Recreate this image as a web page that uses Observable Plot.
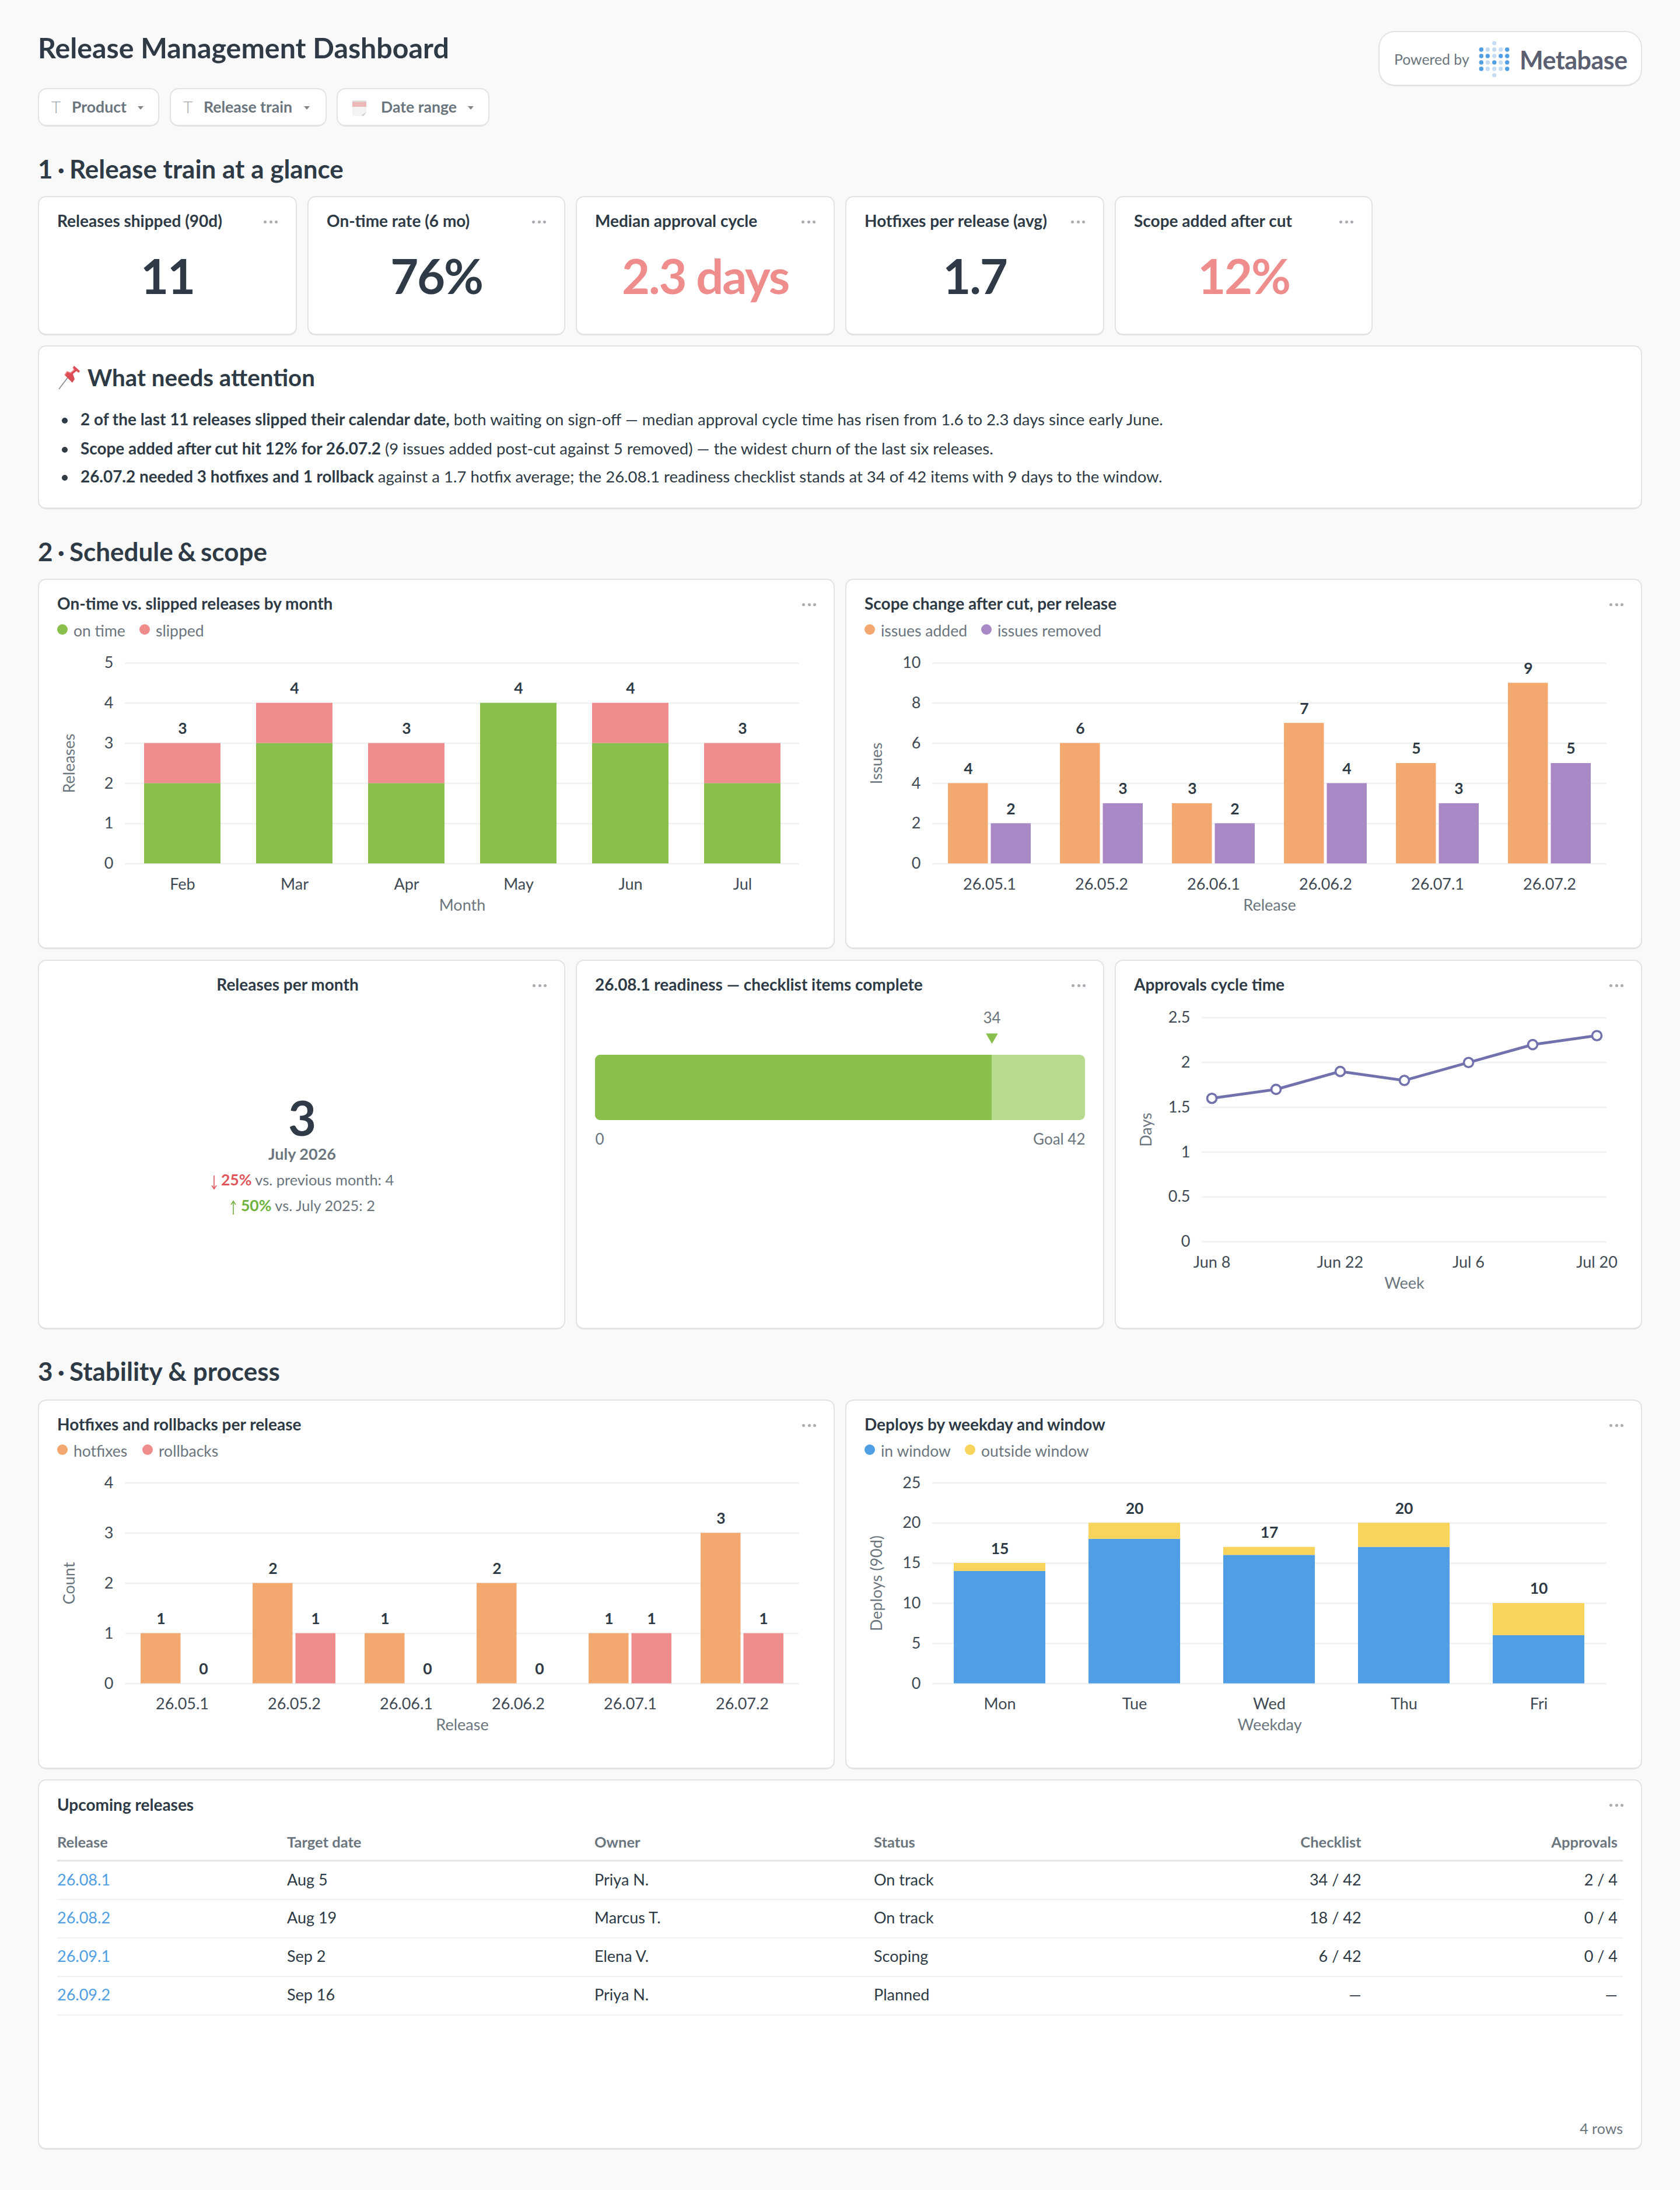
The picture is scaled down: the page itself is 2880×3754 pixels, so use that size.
<!DOCTYPE html>
<html>
<head>
<meta charset="utf-8">
<script src="https://cdn.jsdelivr.net/npm/d3@7"></script>
<script src="https://cdn.jsdelivr.net/npm/@observablehq/plot@0.6"></script>
<style>
html,body{margin:0;padding:0;background:#F9F9FA;}
#page{position:relative;width:2880px;height:3754px;overflow:hidden;font-family:Lato,sans-serif;background:#F9F9FA;}
.card{position:absolute;box-sizing:border-box;background:#fff;border:2.4px solid #E1E4E6;border-bottom-width:3px;border-radius:14px;}
.t{position:absolute;white-space:nowrap;line-height:1;}
svg.plot{position:absolute;}
.dot{position:absolute;width:5px;height:5px;border-radius:50%;background:#A7ACB2;}
.leg{position:absolute;width:18px;height:18px;border-radius:50%;}
.caret{position:absolute;width:0;height:0;border-left:5.5px solid transparent;border-right:5.5px solid transparent;border-top:6.5px solid #7F868C;}
.hr{position:absolute;left:98px;width:2684px;background:#EFF1F2;}
svg.icon{position:absolute;}
</style>
</head>
<body>
<div id="page"></div>
<script>
// ---------- data ----------
const months = ["Feb","Mar","Apr","May","Jun","Jul"];
const onTime = [2,3,2,4,3,2];
const slipped = [1,1,1,0,1,1];
const releases = ["26.05.1","26.05.2","26.06.1","26.06.2","26.07.1","26.07.2"];
const issuesAdded = [4,6,3,7,5,9];
const issuesRemoved = [2,3,2,4,3,5];
const weeks = ["Jun 8","Jun 15","Jun 22","Jun 29","Jul 6","Jul 13","Jul 20"];
const weekTicks = ["Jun 8","Jun 22","Jul 6","Jul 20"];
const cycleDays = [1.6,1.7,1.9,1.8,2.0,2.2,2.3];
const checklistDone = 34;
const checklistGoal = 42;
const hotfixes = [1,2,1,2,1,3];
const rollbacks = [0,1,0,0,1,1];
const weekdays = ["Mon","Tue","Wed","Thu","Fri"];
const inWindow = [14,18,16,17,6];
const outsideWindow = [1,2,1,3,4];
const kpiTitles = ["Releases shipped (90d)","On-time rate (6 mo)","Median approval cycle","Hotfixes per release (avg)","Scope added after cut"];
const kpiValues = ["11","76%","2.3 days","1.7","12%"];
const kpiAlert = [false,false,true,false,true];
const filters = ["Product","Release train","Date range"];
const tableHead = ["Release","Target date","Owner","Status","Checklist","Approvals"];
const tableReleases = ["26.08.1","26.08.2","26.09.1","26.09.2"];
const tableDates = ["Aug 5","Aug 19","Sep 2","Sep 16"];
const tableOwners = ["Priya N.","Marcus T.","Elena V.","Priya N."];
const tableStatus = ["On track","On track","Scoping","Planned"];
const tableChecklist = ["34 / 42","18 / 42","6 / 42","—"];
const tableApprovals = ["2 / 4","0 / 4","0 / 4","—"];

// ---------- palette ----------
const DARK="#2E3A45", TICK="#3F4A54", GREY="#6B757E", GRID="#EFF1F2";
const GREEN="#88BF4D", RED="#EF8C8C", ORANGE="#F2A86F", PURPLE="#A989C5", BLUE="#509EE3", YELLOW="#F9D45C", LINE="#7172AD";

const page=document.getElementById("page");
function el(cls,css,parent=page){const d=document.createElement("div");d.className=cls;Object.assign(d.style,css);parent.appendChild(d);return d;}
function T(str,x,y,o={}){
  const {size=27,weight=400,color=DARK,align="left",ls=null,shift=-2.5}=o;
  const d=el("t",{left:x+"px",top:(y+shift)+"px",fontSize:size+"px",fontWeight:weight,color,
    transform:`translate(${align==="center"?"-50%":align==="right"?"-100%":"0"},-50%)`});
  if(ls!==null)d.style.letterSpacing=ls+"px";
  if(Array.isArray(str)){str.forEach(p=>{const s=document.createElement("span");s.textContent=p.t;
      if(p.w)s.style.fontWeight=p.w; if(p.c)s.style.color=p.c; if(p.ws)s.style.wordSpacing=p.ws+"px"; if(p.s)s.style.fontSize=p.s+"px"; d.appendChild(s);});}
  else d.textContent=str;
  return d;
}
function card(x1,y1,x2,y2){return el("card",{left:x1+"px",top:y1+"px",width:(x2-x1)+"px",height:(y2-y1)+"px"});}
function dots(xr,y){[0,9.5,19].forEach(dx=>el("dot",{left:(xr-24+dx)+"px",top:(y-2.5)+"px"}));}
function legend(items){items.forEach(([label,color,cx,tx,y])=>{
  el("leg",{left:(cx-9)+"px",top:(y-11)+"px",background:color});
  T(label,tx,y,{size:FS.leg,color:GREY,shift:0});
});}
function svgIcon(x,y,w,h,inner){const n=document.createElementNS("http://www.w3.org/2000/svg","svg");
  n.setAttribute("class","icon");n.setAttribute("width",w);n.setAttribute("height",h);n.setAttribute("viewBox",`0 0 ${w} ${h}`);
  n.style.left=x+"px";n.style.top=y+"px";n.innerHTML=inner;page.appendChild(n);}
function heading(num,rest,y,ws=0){T([{t:num+" · ",ws:-2.5},{t:rest,ws}],65,y,{size:44,weight:700});}

const FS={tick:27,val:26.5,leg:26.5,title:28,kpi:83};

// ---------- shared Plot frame ----------
function frame(box,grid,opts){
  const [bx1,by1,bx2,by2]=box,[gx1,gy1,gx2,gy2]=grid;
  const svg=Plot.plot({
    width:bx2-bx1,height:by2-by1,
    marginLeft:gx1-bx1,marginRight:bx2-gx2,marginTop:gy1-by1,marginBottom:by2-gy2,
    style:{background:"transparent",fontFamily:"Lato",overflow:"visible"},
    ...opts});
  svg.setAttribute("class","plot");
  svg.style.left=bx1+"px";svg.style.top=by1+"px";
  d3.select(svg).selectAll('[aria-label="x-axis label"],[aria-label="y-axis label"]').attr("fill",GREY);
  page.appendChild(svg);
}
const axX=(label,extra={})=>Plot.axisX({tickSize:0,tickPadding:25,fontSize:FS.tick,fill:TICK,label,labelAnchor:"center",labelArrow:"none",labelOffset:80,...extra});
const axY=(label,ticks,extra={})=>Plot.axisY({ticks,tickSize:0,tickPadding:20,fontSize:FS.tick,fill:TICK,label,labelAnchor:"center",labelArrow:"none",labelOffset:106,tickFormat:d=>String(d),...extra});
const grid=(ticks)=>Plot.gridY(ticks,{stroke:GRID,strokeWidth:2.6,strokeOpacity:1});
const valueText=(data,o)=>Plot.text(data,{fontSize:FS.val,fontWeight:700,fill:DARK,dy:-24.5,...o});

// ---------- header ----------
T("Release Management Dashboard",65,83,{size:48.3,weight:700});
const fbox=[[65,273,96,123,241],[291,560,322,349,526],[577,839,null,653,807]];
filters.forEach((f,i)=>{
  const [a,b,ti,tx,cx]=fbox[i];
  const c=card(a,151,b,217);c.style.borderRadius="15px";
  if(ti)T("T",ti,183,{size:28,color:"#9CA3A9",align:"center",weight:300,shift:0});
  T(f,tx,183,{size:26.6,weight:700,color:GREY,shift:0});
  el("caret",{left:(cx-5.5)+"px",top:"182px"});
});
svgIcon(603,172,26,27,`<path d="M1 3h24v19l-5 5H1z" fill="#F3F4F4"/><rect x="1" y="3" width="24" height="8" fill="#EBB7B7"/><rect x="1" y="0.5" width="24" height="2.5" fill="#D9D9D9"/><path d="M25 20l-5 7-4-1z" fill="#CFCFCF"/>`);

const pill=card(2363,53,2815,148);pill.style.borderRadius="28px";
T("Powered by",2390,102,{size:24.8,color:GREY,shift:0});
(function(){
  const cols=[5.3,16.3,27.7,38.7,49.7],rows=[16,27,38,49];
  const on=[[1,0,0,0,1],[1,1,0,1,1],[1,0,1,0,1],[1,0,0,0,1]];
  let s=`<circle cx="27.7" cy="5" r="3.6" fill="#C5DCF3"/><circle cx="27.7" cy="60" r="3.6" fill="#C5DCF3"/>`;
  rows.forEach((y,r)=>cols.forEach((x,c)=>{s+=`<circle cx="${x}" cy="${y}" r="3.7" fill="${on[r][c]?BLUE:"#C5DCF3"}"/>`;}));
  svgIcon(2534,69,56,66,s);
})();
T("Metabase",2605,102,{size:43,weight:700,color:"#5A6072",ls:-.5,shift:0});

// ---------- section 1 ----------
heading("1","Release train at a glance",291);
const kpiX=[65,527,987,1449,1911],kpiW=[444,442,444,444,442];
kpiTitles.forEach((t,i)=>{
  const x=kpiX[i],w=kpiW[i];
  card(x,336,x+w,575);
  T(t,x+33,380,{size:FS.title,weight:700});
  dots(x+w-33,380);
  T(kpiValues[i],x+w/2,472,{size:FS.kpi,weight:700,align:"center",color:kpiAlert[i]?RED:DARK,ls:-2.2,shift:0});
});

card(65,592,2815,873);
svgIcon(98,626,42,42,`<path d="M3 41 L19 20" stroke="#8A9097" stroke-width="1.8"/><path d="M13 17 L26 30 L30 24 L27 15 L33 10 L37 13 L39 10 L29 1 L27 4 L29 8 L23 13 L17 11 Z" fill="#DD4D55"/><path d="M27 4 L29 8 L23 13 L17 11 L13 17" stroke="#F08C90" stroke-width="1.6" fill="none"/>`);
T("What needs attention",150,649,{size:40.3,weight:700,shift:-2});
const bullets=[
 [["2 of the last 11 releases slipped their calendar date,",700]," both waiting on sign-off — median approval cycle time has risen from 1.6 to 2.3 days since early June."],
 [["Scope added after cut hit 12% for 26.07.2",700]," (9 issues added post-cut against 5 removed) — the widest churn of the last six releases."],
 [["26.07.2 needed 3 hotfixes and 1 rollback",700]," against a 1.7 hotfix average; the 26.08.1 readiness checklist stands at 34 of 42 items with 9 days to the window."]
];
[721,771,819].forEach((y,i)=>{
  el("dot",{left:"106px",top:(y-5)+"px",width:"10px",height:"10px",background:DARK});
  T([{t:bullets[i][0][0],w:700,s:27.9},{t:bullets[i][1]}],138,y,{size:27.5,color:DARK});
});

// ---------- section 2 ----------
heading("2","Schedule & scope",947,-3);

// chart 1 : stacked
card(65,992,1431,1627);
T("On-time vs. slipped releases by month",98,1036,{size:FS.title,weight:700});dots(1399,1036);
legend([["on time",GREEN,106.5,126,1081],["slipped",RED,248,267,1081]]);
const statusKeys=["on time","slipped"];
const rows1=months.flatMap((m,i)=>[{m,k:"on time",v:onTime[i]},{m,k:"slipped",v:slipped[i]}]);
frame([65,992,1431,1627],[214,1136,1370,1480],{
  x:{domain:months,paddingInner:.32,paddingOuter:.16},
  y:{domain:[0,5]},
  color:{domain:statusKeys,range:[GREEN,RED]},
  marks:[grid([0,1,2,3,4,5]),axY("Releases",[0,1,2,3,4,5]),axX("Month"),
    Plot.barY(rows1,{x:"m",y:"v",fill:"k",order:statusKeys}),
    valueText(months,{x:d=>d,y:(d,i)=>onTime[i]+slipped[i],text:(d,i)=>String(onTime[i]+slipped[i])})
  ]});

// chart 2 : grouped
card(1449,992,2815,1627);
T("Scope change after cut, per release",1482,1036,{size:FS.title,weight:700});dots(2783,1036);
legend([["issues added",ORANGE,1490.5,1510,1081],["issues removed",PURPLE,1690.7,1710,1081]]);
function grouped(a,b,ca,cb,yDomain,yTicks,yLabel,box,g){
  const band={domain:releases,paddingInner:.258,paddingOuter:.129};
  const inset=73.5, off=36.5;
  frame(box,g,{
    x:band,y:{domain:yDomain},
    marks:[grid(yTicks),axY(yLabel,yTicks),axX("Release"),
      Plot.barY(releases,{x:d=>d,y:(d,i)=>a[i],fill:ca,insetRight:inset}),
      Plot.barY(releases,{x:d=>d,y:(d,i)=>b[i],fill:cb,insetLeft:inset}),
      valueText(releases,{x:d=>d,y:(d,i)=>a[i],text:(d,i)=>String(a[i]),dx:-off}),
      valueText(releases,{x:d=>d,y:(d,i)=>b[i],text:(d,i)=>String(b[i]),dx:off})
    ]});
}
grouped(issuesAdded,issuesRemoved,ORANGE,PURPLE,[0,10],[0,2,4,6,8,10],"Issues",[1449,992,2815,1627],[1598,1136,2754,1480]);

// releases per month
card(65,1645,969,2279);
T("Releases per month",493,1689,{size:FS.title,weight:700,align:"center"});dots(937,1689);
T("3",518,1915,{size:FS.kpi,weight:700,align:"center",shift:0});
T("July 2026",518,1979,{size:27,weight:700,color:GREY,align:"center"});
const arrow=(x,y,h,col,up)=>svgIcon(x,y,12,h,up
  ?`<path d="M6 2V${h}" stroke="${col}" stroke-width="1.6"/><path d="M2 7L6 1L10 7" fill="none" stroke="${col}" stroke-width="1.6"/>`
  :`<path d="M6 0V${h-2}" stroke="${col}" stroke-width="1.6"/><path d="M2 ${h-7}L6 ${h-1}L10 ${h-7}" fill="none" stroke="${col}" stroke-width="1.6"/>`);
arrow(361,2015,24,"#E0555A",false);
T([{t:"25%",w:700,c:"#E0555A",s:26.5},{t:" vs. previous month: 4"}],379,2024,{size:25.4,color:GREY});
arrow(394,2058,24,"#6FB33C",true);
T([{t:"50%",w:700,c:"#6FB33C",s:26.5},{t:" vs. July 2025: 2"}],413,2068,{size:25.4,color:GREY});

// progress
card(987,1645,1893,2279);
T("26.08.1 readiness — checklist items complete",1020,1689,{size:FS.title,weight:700});dots(1861,1689);
frame([987,1645,1893,2279],[1020,1808,1860,1920],{
  x:{domain:[0,checklistGoal],axis:null},
  y:{axis:null,domain:[0,1]},
  marks:[
    Plot.rectX([0],{x1:0,x2:checklistGoal,y1:0,y2:1,fill:"#B8DB8F",rx:9}),
    Plot.rectX([0],{x1:0,x2:checklistDone,y1:0,y2:1,fill:GREEN,rx:9}),
    Plot.rectX([0],{x1:1,x2:checklistDone,y1:0,y2:1,fill:GREEN}),
    Plot.text([checklistDone],{x:d=>d,y:1,text:d=>String(d),dy:-63,fontSize:26,fill:GREY}),
    Plot.dot([checklistDone],{x:d=>d,y:1,symbol:"triangle",rotate:180,r:7.6,fill:GREEN,stroke:"none",dy:-31}),
    Plot.text([0],{x:d=>d,y:0,text:d=>String(d),dy:33,fontSize:26,fill:GREY,textAnchor:"start"}),
    Plot.text([checklistGoal],{x:d=>d,y:0,text:d=>"Goal "+d,dy:33,fontSize:26,fill:GREY,textAnchor:"end"})
  ]});

// line
card(1911,1645,2815,2279);
T("Approvals cycle time",1944,1689,{size:FS.title,weight:700});dots(2783,1689);
const cycleTicks=[0,.5,1,1.5,2,2.5];
const cycleRows=weeks.map((w,i)=>({w,v:cycleDays[i]}));
frame([1911,1645,2815,2279],[2060,1744,2754,2128],{
  x:{type:"point",domain:weeks,padding:.14},
  y:{domain:[0,2.5]},
  marks:[grid(cycleTicks),axY("Days",cycleTicks),axX("Week",{ticks:weekTicks}),
    Plot.lineY(cycleRows,{x:"w",y:"v",stroke:LINE,strokeWidth:4.8}),
    Plot.dot(cycleRows,{x:"w",y:"v",r:8,fill:"#fff",stroke:LINE,strokeWidth:3.6})
  ]});

// ---------- section 3 ----------
heading("3","Stability & process",2352);

card(65,2399,1431,3033);
T("Hotfixes and rollbacks per release",98,2443,{size:FS.title,weight:700});dots(1399,2443);
legend([["hotfixes",ORANGE,106.5,126,2487],["rollbacks",RED,252.5,272,2487]]);
grouped(hotfixes,rollbacks,ORANGE,RED,[0,4],[0,1,2,3,4],"Count",[65,2399,1431,3033],[214,2541.5,1370,2885.5]);

card(1449,2399,2815,3033);
T("Deploys by weekday and window",1482,2443,{size:FS.title,weight:700});dots(2783,2443);
legend([["in window",BLUE,1490.5,1510,2487],["outside window",YELLOW,1663,1682,2487]]);
const winKeys=["in window","outside window"];
const rows2=weekdays.flatMap((d,i)=>[{d,k:"in window",v:inWindow[i]},{d,k:"outside window",v:outsideWindow[i]}]);
frame([1449,2399,2815,3033],[1598,2541.5,2754,2885.5],{
  x:{domain:weekdays,paddingInner:.32,paddingOuter:.16},
  y:{domain:[0,25]},
  color:{domain:winKeys,range:[BLUE,YELLOW]},
  marks:[grid([0,5,10,15,20,25]),axY("Deploys (90d)",[0,5,10,15,20,25]),axX("Weekday"),
    Plot.barY(rows2,{x:"d",y:"v",fill:"k",order:winKeys}),
    valueText(weekdays,{x:d=>d,y:(d,i)=>inWindow[i]+outsideWindow[i],text:(d,i)=>String(inWindow[i]+outsideWindow[i])})
  ]});

// ---------- table ----------
card(65,3050,2815,3685);
T("Upcoming releases",98,3095,{size:FS.title,weight:700});dots(2783,3094);
const colX=[98,492,1019,1498,2333.6,2773],colAlign=["left","left","left","left","right","right"];
tableHead.forEach((h,c)=>T(h,colX[c],3160,{size:25.5,weight:700,color:GREY,align:colAlign[c]}));
el("hr",{top:"3187.5px",height:"3px",background:"#E3E6E8"});
const rowY=[3223,3288.6,3354.7,3420.7],lineY=[3254.5,3320.5,3386.5,3452.5];
const cols=[tableReleases,tableDates,tableOwners,tableStatus,tableChecklist,tableApprovals];
rowY.forEach((y,r)=>{
  cols.forEach((col,c)=>T(col[r],colX[c],y,{size:27,color:c===0?BLUE:DARK,align:colAlign[c]}));
  el("hr",{top:lineY[r]+"px",height:"2.4px"});
});
T("4 rows",2782,3650,{size:25,color:GREY,align:"right"});
</script>
</body>
</html>
